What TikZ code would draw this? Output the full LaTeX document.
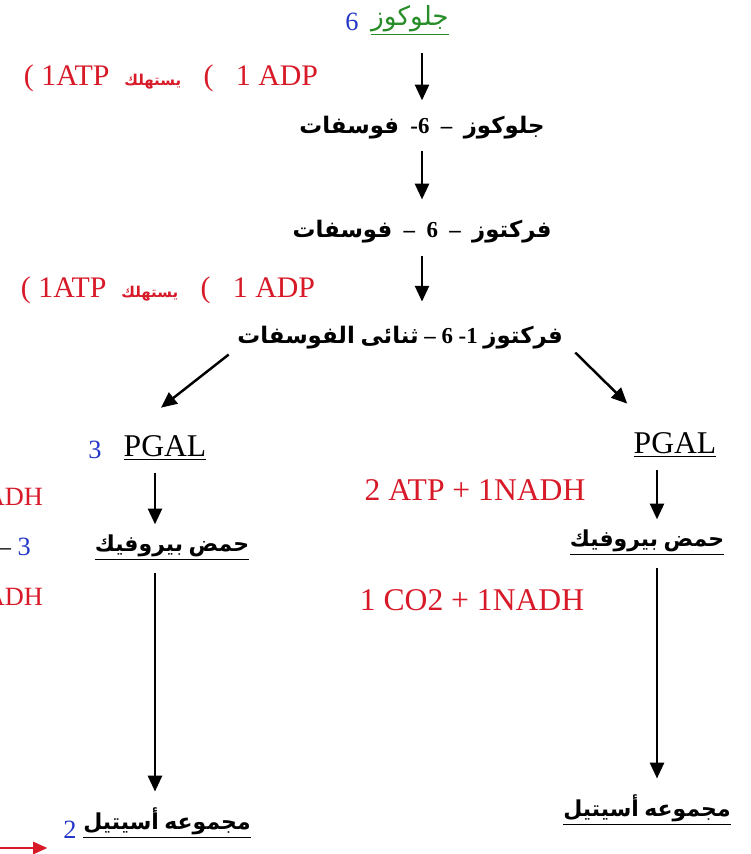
\documentclass[tikz,border=0pt]{standalone}
\usepackage{fontspec}
\setmainfont{Liberation Serif}
\newfontfamily\arabicfont[Script=Arabic]{DejaVu Sans}
\TeXXeTstate=1
\usetikzlibrary{arrows.meta,positioning}
\definecolor{rxred}{RGB}{215,25,40}
\definecolor{rxblue}{RGB}{35,55,200}
\definecolor{rxgreen}{RGB}{40,140,40}
\newcommand{\ar}[1]{{\arabicfont #1}}
\newcommand{\rtl}[1]{\beginR #1\endR}

\begin{document}
\begin{tikzpicture}[x=0.02cm,y=-0.02cm]
				\tikzstyle{Stage}	= [inner sep=1pt, font=\fontsize{13}{15}\selectfont\bfseries]
				\tikzstyle{Prod}	= [inner sep=1pt, font=\fontsize{12.5}{15}\selectfont\bfseries]
				\tikzstyle{Energy}	= [inner sep=1pt, text=rxred, font=\fontsize{17}{19}\selectfont]
				\tikzstyle{Big}		= [inner sep=1pt, font=\fontsize{18}{20}\selectfont]
				\tikzstyle{Count}	= [inner sep=1pt, text=rxblue, font=\fontsize{15}{17}\selectfont]
				\tikzstyle{Arr}		= [-{Triangle[length=9pt,width=8pt]}, line width=1.4pt]

				\useasboundingbox (0,0) rectangle (750,854);

				% main chain
				\node (n6)  at (352,22)  [Count] {6};
				\node (glc) at (410,20)  [inner sep=1pt, font=\fontsize{15}{17}\selectfont, text=rxgreen] {\underline{\ar{جلوكوز}}};
				\node (g6p) at (422,128) [Stage] {\rtl{\ar{جلوكوز} \ – \ -6 \ \ar{فوسفات}}};
				\node (f6p) at (422,232) [Stage] {\rtl{\ar{فركتوز} \ – \ 6 \ – \ \ar{فوسفات}}};
				\node (fbp) at (400,338) [Stage] {\rtl{\ar{فركتوز} -1 6 – \ar{ثنائى} \ar{الفوسفات}}};

				\node (atp1) at (171,78)  [Energy] {( 1ATP \ \ar{\fontsize{8.5}{10}\selectfont\bfseries يستهلك} \ \ ( \ \ 1 ADP};
				\node (atp2) at (168,290) [Energy] {( 1ATP \ \ar{\fontsize{8.5}{10}\selectfont\bfseries يستهلك} \ \ ( \ \ 1 ADP};

				% left branch
				\node (n3L)   at (95,450)  [Count] {3};
				\node (pgalL) at (165,448) [Big] {\underline{PGAL}};
				\node (pyrL)  at (172,548) [Prod] {\underline{\rtl{\ar{حمض} \ar{بيروفيك}}}};
				\node (acL)   at (167,823) [Prod] {\underline{\rtl{\ar{مجموعه} \ar{أسيتيل}}}};
				\node (n2)    at (70,830)  [Count] {2};

				\node (edge1) at (45,497) [Energy][anchor=east, font=\fontsize{15}{17}\selectfont] {NADH};
				\node (edge2) at (33,547) [Count][anchor=east] {{\color{black}--} 3};
				\node (edge3) at (45,597) [Energy][anchor=east, font=\fontsize{15}{17}\selectfont] {NADH};
				\coordinate (redst) at (-5,848);

				% right branch
				\node (pgalR) at (675,445) [Big] {\underline{PGAL}};
				\node (pyrR)  at (647,543) [Prod] {\underline{\rtl{\ar{حمض} \ar{بيروفيك}}}};
				\node (acR)   at (647,810) [Prod] {\underline{\rtl{\ar{مجموعه} \ar{أسيتيل}}}};
				\node (atpR)  at (475,490) [Energy][font=\fontsize{18}{20}\selectfont] {2 ATP + 1NADH};
				\node (co2R)  at (472,600) [Energy][font=\fontsize{18}{20}\selectfont] {1 CO2 + 1NADH};

				\coordinate (colL) at (155,0);
				\coordinate (colR) at (657,0);

				\draw (glc.south -| g6p.north) to (g6p.north) [Arr, shorten <=9pt, shorten >=8pt];
				\draw (g6p.south) to (f6p.north) [Arr, shorten <=5.2pt, shorten >=10.8pt];
				\draw (f6p.south) to (f6p.south |- fbp.north) [Arr, shorten <=6pt, shorten >=13pt];

				\draw ([xshift=-97.5pt,yshift=-1.7pt]fbp.south) to ([xshift=-2.3pt,yshift=14.7pt]pgalL.north) [Arr];
				\draw ([xshift=99.8pt,yshift=-0.6pt]fbp.south) to ([xshift=-27.2pt,yshift=15.3pt]pgalR.north) [Arr];

				\draw (pgalL.south -| colL) to (pyrL.north -| colL) [Arr, shorten <=6pt, shorten >=5pt];
				\draw (pyrL.south -| colL) to (acL.north -| colL) [Arr, shorten <=6pt, shorten >=8pt];
				\draw (pgalR.south -| colR) to (pyrR.north -| colR) [Arr, shorten <=6pt, shorten >=5pt];
				\draw (pyrR.south -| colR) to (acR.north -| colR) [Arr, shorten <=6pt, shorten >=8pt];

				\draw (redst) to (n2.south west |- redst) [-{Triangle[length=8pt,width=7pt]}, rxred, line width=1pt, shorten >=8pt];
			\end{tikzpicture}
\end{document}
